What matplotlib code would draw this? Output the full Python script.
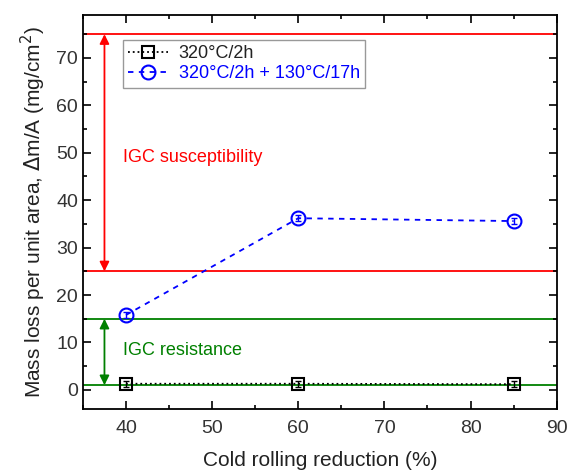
import matplotlib.pyplot as plt
from matplotlib.ticker import MultipleLocator

plt.rcParams['font.family'] = ['Liberation Sans', 'DejaVu Sans']

reduction = [40, 60, 85]
loss_320 = [1.3, 1.3, 1.2]
err_320 = [0.6, 0.6, 0.6]
loss_320_130 = [15.8, 36.2, 35.6]
err_320_130 = [0.6, 0.6, 0.6]

susc_bounds = [75, 25]
resist_bounds = [15, 1]
arrow_x = 37.5

fig = plt.figure(figsize=(5.68, 4.76), dpi=100)
ax = fig.add_axes([0.146, 0.141, 0.834, 0.827])

# reference bands
for y in susc_bounds:
    ax.axhline(y, color='red', lw=1.3, zorder=1)
for y in resist_bounds:
    ax.axhline(y, color='green', lw=1.3, zorder=1)

ax.annotate('', xy=(arrow_x, susc_bounds[0]), xytext=(arrow_x, susc_bounds[1]),
            arrowprops=dict(arrowstyle='<|-|>', color='red', lw=1.3,
                            mutation_scale=14, shrinkA=0, shrinkB=0))
ax.annotate('', xy=(arrow_x, resist_bounds[0]), xytext=(arrow_x, resist_bounds[1]),
            arrowprops=dict(arrowstyle='<|-|>', color='green', lw=1.3,
                            mutation_scale=14, shrinkA=0, shrinkB=0))

ax.text(39.7, 49, 'IGC susceptibility', color='red', fontsize=13, va='center')
ax.text(39.7, 8.4, 'IGC resistance', color='green', fontsize=13, va='center')

# data
ax.plot(reduction, loss_320, color='black', ls=':', lw=1.3,
        marker='s', ms=9, mfc='none', mec='black', mew=1.5,
        label='320°C/2h', zorder=3)
ax.errorbar(reduction, loss_320, yerr=err_320, fmt='none', ecolor='black',
            capsize=2, elinewidth=1, zorder=3)
ax.plot(reduction, loss_320_130, color='blue', ls='--', lw=1.3, dashes=(3, 3),
        marker='o', ms=10, mfc='none', mec='blue', mew=1.5,
        label='320°C/2h + 130°C/17h', zorder=3)
ax.errorbar(reduction, loss_320_130, yerr=err_320_130, fmt='none', ecolor='blue',
            capsize=2, elinewidth=1, zorder=3)

ax.set_xlim(35, 90)
ax.set_ylim(-4, 79)
ax.xaxis.set_major_locator(MultipleLocator(10))
ax.xaxis.set_minor_locator(MultipleLocator(5))
ax.yaxis.set_major_locator(MultipleLocator(10))
ax.yaxis.set_minor_locator(MultipleLocator(5))
ax.tick_params(which='both', direction='in', top=True, right=True,
               labeltop=False, labelright=False, labelsize=14, width=1.2,
               labelcolor='#333333')
ax.tick_params(which='major', length=6)
ax.tick_params(which='minor', length=3)
ax.tick_params(axis='x', pad=8)
for s in ax.spines.values():
    s.set_linewidth(1.3)

ax.set_xlabel('Cold rolling reduction (%)', fontsize=15, labelpad=10, color='#222222')
ax.set_ylabel('Mass loss per unit area, $\\Delta$m/A (mg/cm$^2$)', fontsize=15,
              color='#222222', labelpad=6)

leg = ax.legend(loc='upper left', bbox_to_anchor=(0.065, 0.96), fontsize=13,
                frameon=True, fancybox=False, edgecolor='gray',
                handlelength=2.2, borderpad=0.3, labelspacing=0.15,
                handletextpad=0.6)
for text, line in zip(leg.get_texts(), ['#222222', 'blue']):
    text.set_color(line)

fig.savefig('out.png', dpi=100)
